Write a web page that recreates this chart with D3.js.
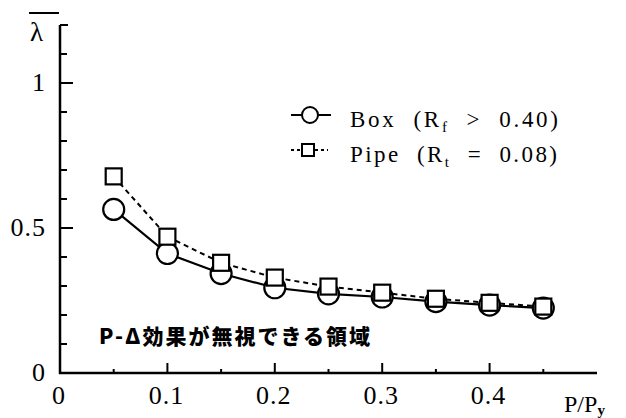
<!DOCTYPE html>
<html><head><meta charset="utf-8">
<script src="https://cdn.jsdelivr.net/npm/d3@7"></script>
<style>
body{margin:0;background:#fff;}
svg{display:block;}
</style></head>
<body><svg id="c" width="626" height="418" font-family="Liberation Serif, Times New Roman, Times, serif"></svg>
<script>
const pRatio = [0.05,0.10,0.15,0.20,0.25,0.30,0.35,0.40,0.45];
const boxVals = [0.564,0.412,0.343,0.294,0.273,0.262,0.246,0.234,0.224];
const pipeVals = [0.678,0.470,0.380,0.329,0.298,0.277,0.256,0.242,0.229];
const xMajor = [0.1,0.2,0.3,0.4];
const xMinor = [0.05,0.15,0.25,0.35,0.45];
const xLabels = ["0","0.1","0.2","0.3","0.4"];
const yTicks = [0,0.1,0.2,0.3,0.4,0.5,0.6,0.7,0.8,0.9,1.0,1.1,1.2];
const yLabels = [[0,"0"],[0.5,"0.5"],[1,"1"]];

const SERIF = "Liberation Serif, Times New Roman, Times, serif";
const svg = d3.select("#c");
const x = d3.scaleLinear().domain([0,0.5]).range([60,597]);
const y = d3.scaleLinear().domain([0,1.2]).range([373,25]);

// axes lines
svg.append("line").attr("x1",x(0)).attr("x2",x(0)).attr("y1",y(0)+1).attr("y2",y(1.2))
  .attr("stroke","#000").attr("stroke-width",2.5);
svg.append("line").attr("x1",x(0)-1).attr("x2",x(0.5)).attr("y1",y(0)).attr("y2",y(0))
  .attr("stroke","#000").attr("stroke-width",2.5);

// y ticks (inward)
yTicks.forEach(v=>{
  const major = Math.abs(v-0.5)<1e-9 || Math.abs(v-1)<1e-9;
  const len = major?13:(Math.abs(v-1.2)<1e-9?8:7);
  svg.append("line").attr("x1",x(0)).attr("x2",x(0)+len).attr("y1",y(v)).attr("y2",y(v))
    .attr("stroke","#000").attr("stroke-width",2);
});
// x ticks (inward/up)
xMajor.forEach(v=>svg.append("line").attr("x1",x(v)).attr("x2",x(v)).attr("y1",y(0)).attr("y2",y(0)-10)
  .attr("stroke","#000").attr("stroke-width",2));
xMinor.forEach(v=>svg.append("line").attr("x1",x(v)).attr("x2",x(v)).attr("y1",y(0)).attr("y2",y(0)-4)
  .attr("stroke","#000").attr("stroke-width",2));

// tick labels
[0,0.1,0.2,0.3,0.4].forEach((v,i)=>{
  svg.append("text").attr("x",x(v)-1).attr("y",404).attr("text-anchor","middle")
    .attr("font-family",SERIF).attr("font-size",26).attr("letter-spacing",1).text(xLabels[i]);
});
yLabels.forEach(([v,t])=>{
  svg.append("text").attr("x",46).attr("y",y(v)+8).attr("text-anchor","end")
    .attr("font-family",SERIF).attr("font-size",26).attr("letter-spacing",1).text(t);
});

// axis titles
svg.append("text").attr("x",30).attr("y",41).attr("font-family",SERIF).attr("font-size",27).text("λ");
svg.append("line").attr("x1",29).attr("x2",59).attr("y1",13).attr("y2",13).attr("stroke","#000").attr("stroke-width",2);
const xt = svg.append("text").attr("x",564).attr("y",412).attr("font-family",SERIF).attr("font-size",24);
xt.append("tspan").text("P/P");
xt.append("tspan").attr("font-size",15).attr("dy",3).attr("font-weight","bold").text("y");

// series
const line = d3.line().x((d,i)=>x(pRatio[i])).y(d=>y(d));
svg.append("path").datum(boxVals).attr("d",line).attr("fill","none").attr("stroke","#000").attr("stroke-width",2.2);
svg.selectAll("circle.box").data(boxVals).enter().append("circle")
  .attr("cx",(d,i)=>x(pRatio[i])).attr("cy",d=>y(d)).attr("r",10.5)
  .attr("fill","#fff").attr("stroke","#000").attr("stroke-width",2.2);
svg.append("path").datum(pipeVals).attr("d",line).attr("fill","none").attr("stroke","#000")
  .attr("stroke-width",2).attr("stroke-dasharray","5,4");
const s = 16;
svg.selectAll("rect.pipe").data(pipeVals).enter().append("rect")
  .attr("x",(d,i)=>x(pRatio[i])-s/2).attr("y",d=>y(d)-s/2).attr("width",s).attr("height",s)
  .attr("fill","#fff").attr("stroke","#000").attr("stroke-width",2.2);

// legend
svg.append("line").attr("x1",291).attr("x2",331).attr("y1",115).attr("y2",115).attr("stroke","#000").attr("stroke-width",2);
svg.append("circle").attr("cx",310).attr("cy",115).attr("r",8).attr("fill","#fff").attr("stroke","#000").attr("stroke-width",2);
svg.append("line").attr("x1",291).attr("x2",328).attr("y1",150).attr("y2",150).attr("stroke","#000").attr("stroke-width",2).attr("stroke-dasharray","3,3");
svg.append("rect").attr("x",302).attr("y",144).attr("width",12).attr("height",12).attr("fill","#fff").attr("stroke","#000").attr("stroke-width",2);

const l1 = svg.append("text").attr("x",350).attr("y",127).attr("font-family",SERIF).attr("font-size",23)
  .attr("textLength",208).attr("lengthAdjust","spacing").style("white-space","pre");
l1.append("tspan").text("Box  (R");
l1.append("tspan").attr("font-size",15).attr("dy",5).text("f");
l1.append("tspan").attr("dy",-5).text("  >  0.40)");
const l2 = svg.append("text").attr("x",350).attr("y",162).attr("font-family",SERIF).attr("font-size",23)
  .attr("textLength",207).attr("lengthAdjust","spacing").style("white-space","pre");
l2.append("tspan").text("Pipe  (R");
l2.append("tspan").attr("font-size",15).attr("dy",5).text("t");
l2.append("tspan").attr("dy",-5).text("  =  0.08)");

// annotation
svg.append("text").attr("x",99).attr("y",344).attr("font-size",21)
  .attr("font-family","Noto Sans CJK JP").attr("font-weight","900")
  .attr("textLength",271).attr("lengthAdjust","spacing")
  .text("P-Δ効果が無視できる領域");
</script></body></html>
